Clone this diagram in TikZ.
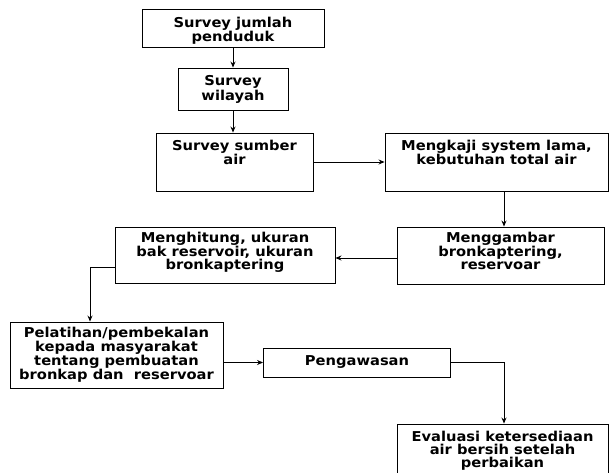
\documentclass[tikz,border=0pt]{standalone}
\usepackage{fontspec}
\setmainfont{DejaVu Sans}[FakeStretch=1.08]
\usetikzlibrary{arrows.meta}
\tikzset{
  box/.style={draw=black, line width=0.9pt, rectangle, inner sep=0pt},
  txt/.style={anchor=north, inner sep=0pt, align=center,
    font=\fontsize{13.6pt}{13pt}\selectfont\bfseries},
  arr/.style={draw=black, line width=0.9pt, -{Stealth[length=6pt,width=5pt]}}
}
\begin{document}
\begin{tikzpicture}[x=1pt,y=-1pt]
\clip (0,0) rectangle (610,473);
\fill[white] (0,0) rectangle (610,473);
% boxes
\node[box, minimum width=182, minimum height=38] (b1) at (233,28) {};
\node[box, minimum width=110, minimum height=42] (b2) at (233,89) {};
\node[box, minimum width=157, minimum height=58] (b3) at (234.5,162) {};
\node[box, minimum width=223, minimum height=58] (b4) at (496.5,162) {};
\node[box, minimum width=207, minimum height=57] (b5) at (500.5,255.5) {};
\node[box, minimum width=220, minimum height=56] (b6) at (225,255) {};
\node[box, minimum width=213, minimum height=66] (b7) at (116.5,355) {};
\node[box, minimum width=187, minimum height=29] (b8) at (357,362.5) {};
\node[box, minimum width=211, minimum height=70] (b9) at (502.5,459) {};
% texts
\node[txt] (t1) at ([yshift=-8pt]b1.north) {Survey jumlah\\penduduk};
\node[txt] (t2) at ([yshift=-8pt]b2.north) {Survey\\wilayah};
\node[txt] (t3) at ([yshift=-7pt]b3.north) {Survey sumber\\air};
\node[txt] (t4) at ([yshift=-7pt]b4.north) {Mengkaji system lama,\\kebutuhan total air};
\node[txt] (t5) at ([yshift=-5pt]b5.north) {Menggambar\\bronkaptering,\\reservoar};
\node[txt] (t6) at ([yshift=-5pt]b6.north) {Menghitung, ukuran\\bak reservoir, ukuran\\bronkaptering};
\node[txt] (t7) at ([yshift=-5pt]b7.north) {Pelatihan/pembekalan\\kepada masyarakat\\tentang pembuatan\\bronkap dan~ reservoar};
\node[txt] (t8) at ([yshift=-8pt]b8.north) {Pengawasan};
\node[txt] (t9) at ([yshift=-7pt]b9.north) {Evaluasi ketersediaan\\air bersih setelah\\perbaikan};
% connectors
\draw[arr] (b1.south) -- (b1.south |- b2.north);
\draw[arr] (b2.south) -- (b2.south |- b3.north);
\draw[arr] (b3.east) -- (b4.west);
\draw[arr] ([xshift=7.5pt]b4.south) -- ([xshift=7.5pt]b4.south |- b5.north);
\draw[arr] ([yshift=-2.5pt]b5.west) -- ([yshift=-2.5pt]b5.west -| b6.east);
\draw[arr] ([yshift=-12pt]b6.west) -| ([xshift=-26.5pt]b7.north);
\draw[arr] (b7.east |- b8.west) -- (b8.west);
\draw[arr] (b8.east) -| ([xshift=1.5pt]b9.north);
\end{tikzpicture}
\end{document}
